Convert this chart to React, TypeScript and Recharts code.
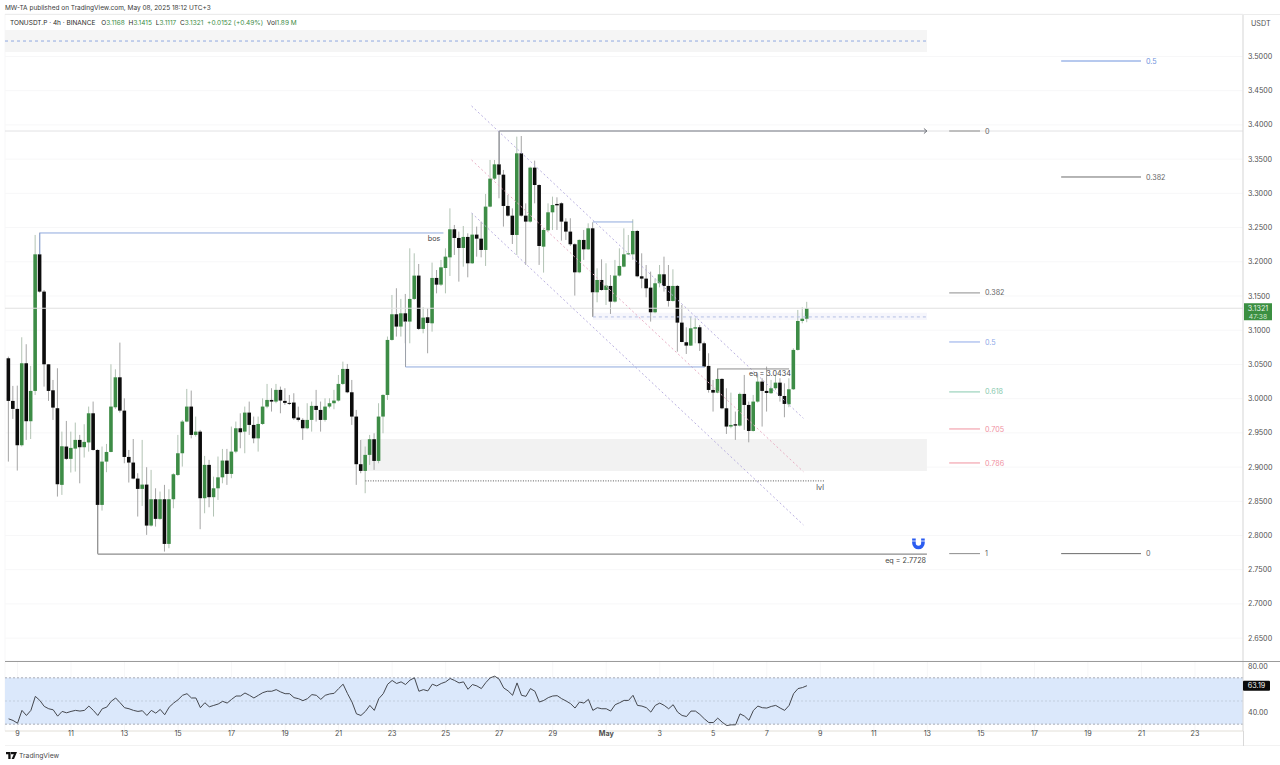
import React from "react";
import {
  ComposedChart, Bar, Line, XAxis, YAxis, CartesianGrid,
  ReferenceLine, ReferenceArea, ReferenceDot,
} from "recharts";

const opens = [3.059,2.9967,2.985,2.9319,3.0517,2.967,3.0113,3.2109,3.1564,3.0502,3.0122,2.986,2.874,2.93,2.912,2.927,2.9397,2.929,2.936,2.9786,
2.925,2.8447,2.908,2.9221,2.9874,3.0312,2.9825,2.9148,2.9066,2.8832,2.8681,2.8744,2.8145,2.853,2.8243,2.853,2.7877,2.853,2.8885,2.9202,
2.9665,2.9884,2.947,2.9518,2.8545,2.9032,2.856,2.869,2.885,2.9095,2.89,2.9226,2.9567,2.9518,2.9796,2.9616,2.942,2.963,2.9884,2.9981,
2.9957,3.0128,2.9967,2.9938,2.9943,2.9723,2.9689,2.9567,2.9689,2.9894,2.9835,2.9689,2.9884,2.9933,2.9972,3.0215,3.0434,3.0093,2.9738,2.9042,
2.8944,2.9178,2.9407,2.909,2.9738,3.0054,3.0858,3.1233,3.1053,3.1247,3.1126,3.1457,3.1798,3.1019,3.1189,3.1101,3.1764,3.1666,3.1909,3.2065,
3.2475,3.2348,3.2202,3.2363,3.1978,3.2397,3.2338,3.2173,3.2806,3.3215,3.3424,3.3273,3.2816,3.2674,3.2392,3.3585,3.2674,3.2587,3.3376,3.3122,
3.2221,3.246,3.2723,3.2845,3.2855,3.2587,3.2441,3.2256,3.1846,3.2319,3.2182,3.2489,3.1554,3.1734,3.1588,3.1647,3.1418,3.1798,3.1929,3.2109,
3.2109,3.245,3.1788,3.1754,3.1622,3.1262,3.1686,3.1817,3.1647,3.1428,3.1647,3.1111,3.0824,3.0775,3.1023,3.1043,3.0809,3.0478,3.0127,3.0088,
3.0288,2.9859,2.9592,2.9626,2.9606,3.0069,2.9908,2.9528,2.9957,3.0249,3.0113,3.0079,3.0152,3.0234,3.0039,2.9918,3.0137,3.0712,3.1135,3.1168];

const closes = [2.9967,2.985,2.9319,3.0517,2.967,3.0113,3.2109,3.1564,3.0502,3.0113,2.9869,2.8749,2.9304,2.912,2.928,2.9397,2.929,2.9368,2.9786,2.925,
2.8447,2.908,2.9221,2.9884,3.0312,2.9825,2.9148,2.9066,2.8832,2.8681,2.8744,2.8145,2.853,2.8243,2.853,2.7877,2.853,2.8895,2.9202,2.9665,
2.9884,2.947,2.9518,2.8545,2.9032,2.856,2.869,2.885,2.9095,2.89,2.9226,2.9567,2.9509,2.9796,2.9616,2.942,2.963,2.9884,2.9981,2.9957,
3.0128,2.9972,2.9938,2.993,2.9713,2.9689,2.9567,2.9689,2.9894,2.9835,2.9689,2.9884,2.9933,2.9972,3.0215,3.0434,3.0093,2.9738,2.9042,2.8944,
2.9178,2.9407,2.909,2.9738,3.0054,3.0858,3.1233,3.1053,3.1247,3.1126,3.1457,3.1798,3.1019,3.1184,3.1106,3.1764,3.1666,3.1919,3.2075,3.2475,
3.2348,3.2202,3.2363,3.1978,3.2397,3.2338,3.2173,3.2806,3.3215,3.3424,3.3273,3.2816,3.2674,3.2392,3.3585,3.2674,3.2587,3.3376,3.3122,3.2231,
3.2465,3.2723,3.283,3.2825,3.2587,3.2441,3.2256,3.1846,3.2319,3.2182,3.2489,3.1554,3.1734,3.1588,3.1652,3.1418,3.1798,3.1939,3.2109,3.2124,
3.245,3.1788,3.1754,3.1613,3.1262,3.1686,3.1817,3.1647,3.1428,3.1647,3.1111,3.0828,3.0775,3.1028,3.1043,3.0809,3.0468,3.0127,3.0088,3.0288,
2.9859,2.9592,2.9616,2.9606,3.0069,2.9908,2.9528,2.9957,3.0249,3.0113,3.0083,3.0152,3.0234,3.0039,2.9923,3.0137,3.0712,3.1135,3.1168,3.1321];

const highs = [3.0614,3.0186,3.019,3.0897,3.0795,3.0478,3.2392,3.2426,3.1588,3.0502,3.0273,3.0444,2.9518,2.9674,2.9518,2.965,2.947,2.9626,2.9884,2.9957,
2.926,2.93,2.9338,3.0502,3.0429,3.0819,3.0005,2.925,2.941,2.891,2.9397,2.8998,2.8959,2.869,2.8642,2.874,2.8676,2.891,2.947,2.9689,
3.0142,3.0118,2.9738,2.9543,2.9163,2.9105,2.886,2.9154,2.9265,2.9265,2.9592,2.9665,2.9786,2.9884,2.9957,2.9738,2.9738,3.0005,3.0215,3.0152,
3.0215,3.0176,3.0152,3.0054,3.0079,2.9884,2.9713,2.9933,2.9957,3.0128,2.9957,3.0005,3.0005,3.0128,3.0346,3.0541,3.0507,3.0273,2.9835,2.9397,
2.93,2.947,2.9494,2.9933,3.0064,3.0907,3.1515,3.1613,3.1457,3.153,3.2197,3.2124,3.1968,3.1335,3.132,3.1988,3.188,3.2027,3.2197,3.2781,
3.2538,3.2441,3.2523,3.2416,3.2708,3.2514,3.2587,3.2991,3.3488,3.3488,3.3902,3.3342,3.2976,3.2781,3.3829,3.3838,3.2854,3.339,3.3478,3.3132,
3.2489,3.2854,3.2952,3.2942,3.2869,3.2636,3.2636,3.227,3.2329,3.2465,3.2562,3.2577,3.1905,3.2036,3.1978,3.1807,3.2027,3.2197,3.2489,3.2392,
3.2621,3.2465,3.2124,3.1953,3.1856,3.1759,3.1953,3.2075,3.1953,3.189,3.1661,3.1369,3.1043,3.1199,3.1174,3.1077,3.0833,3.0663,3.0273,3.0444,
3.0298,3.0152,3.0088,2.9811,3.0088,3.0346,2.9957,3.0054,3.037,3.0298,3.0468,3.0273,3.0346,3.0298,3.0224,3.0298,3.0736,3.1296,3.1335,3.1415];

const lows = [2.908,2.9704,2.8949,2.93,2.9397,2.941,3.0054,3.155,3.0176,2.9967,2.9689,2.8569,2.8593,2.9105,2.892,2.8934,2.8763,2.9139,2.9226,2.924,
2.7741,2.8364,2.8925,2.9216,2.985,2.9796,2.9056,2.8774,2.8822,2.8277,2.8432,2.8009,2.813,2.813,2.8228,2.7765,2.7814,2.8398,2.887,2.9007,
2.9655,2.942,2.9445,2.8092,2.8325,2.8413,2.8277,2.852,2.8763,2.874,2.8837,2.9202,2.9275,2.9202,2.947,2.9348,2.9226,2.9616,2.986,2.9811,
2.9933,2.9786,2.9908,2.9908,2.9689,2.9665,2.9397,2.9553,2.9518,2.9665,2.9518,2.9665,2.986,2.9845,2.9957,3.02,3.0079,2.9616,2.874,2.891,
2.8618,2.9032,2.8959,2.9056,2.9494,2.9981,3.0848,3.0907,3.0907,3.0809,3.0809,3.1442,3.1004,3.0955,3.0663,3.0979,3.1539,3.1646,3.1539,3.1793,
3.21,3.171,3.1929,3.1773,3.1968,3.2075,3.2065,3.1939,3.2796,3.3195,3.2928,3.2514,3.266,3.226,3.21,3.266,3.1954,3.2572,3.2854,3.1954,
3.1842,3.2441,3.2465,3.2465,3.2309,3.2319,3.2231,3.1506,3.1832,3.2027,3.2173,3.1199,3.1408,3.1578,3.1369,3.1238,3.1403,3.1783,3.1919,3.2099,
3.2027,3.1773,3.1613,3.1481,3.1126,3.1247,3.1627,3.1564,3.1345,3.1418,3.0687,3.0824,3.0653,3.077,3.0809,3.0697,3.0453,3.0088,2.9811,3.0079,
2.9845,2.9484,2.9567,2.9397,2.9592,2.9543,2.9362,2.9519,2.9942,2.9592,2.9811,3.0069,3.0127,2.9957,2.9728,2.9874,3.0127,3.0702,3.1101,3.1117];

const rsiValues = [34.6,33.2,30.8,41.9,37.5,41.9,54,50.5,45.3,43.3,42.4,36.9,41,39.8,41,41.9,41.3,41.9,45.6,41.9,
37.5,43.3,44.7,49.7,52.6,48.5,44.2,43.3,41.9,41,41.6,37.5,41.9,39.5,42.7,38.1,44.7,48.2,51.1,54.9,
56.3,52.6,52.6,44.2,48.5,45,46.2,47.4,49.7,48.2,51.4,54.3,54.3,56.9,54.9,52.6,54.9,57.2,58.4,58.4,
59.8,57.8,56.3,56.3,52.9,52,50.3,52,55.5,54.9,51.4,54.9,56.1,56.6,60.7,64.5,56.3,49.1,38.9,37.5,
41,46.2,41.9,52,56.3,64.5,67.7,65.1,66.5,64.2,68,70,58.4,59.8,58.7,64.5,63,65.1,66.5,69.4,
67.7,65.6,66.5,60.1,64.2,63,60.7,65.9,70,71.4,68.8,61.3,58.7,54.9,65.6,54.9,54,60.7,58.4,49.1,
50.5,52.9,54.3,54.6,52,50,47.7,43.9,49.1,48.2,51.4,41.9,44.2,43.3,43.3,41.3,46.8,48.5,50.5,50.5,
54.9,46.2,45.6,44.2,40.4,46.2,48.2,46.2,43.3,46.8,40.4,37.5,36.6,41.3,41.3,38.4,34.6,31.4,31.4,35.2,
31.7,28.8,29.4,29.4,38.9,36.9,33.4,41.9,45.6,44.2,43.9,45.3,46.2,43.9,41.9,46.2,56.3,60.7,61.6,63.19];

const dayTicks = [2,14,26,38,50,62,74,86,98,110,122,134,146,158,170,182,194,206,218,230,242,254,266];
const dayLabels = ["9","11","13","15","17","19","21","23","25","27","29","May","3","5","7","9","11","13","15","17","19","21","23"];
const priceTicks = [2.65,2.7,2.75,2.8,2.85,2.9,2.95,3,3.05,3.1,3.15,3.2,3.25,3.3,3.35,3.4,3.45,3.5];
const rsiTicks = [40,80];

const table = opens.map((open, i) => ({
  i, open, close: closes[i], high: highs[i], low: lows[i], rsi: rsiValues[i],
}));

const X_MIN = -0.807, X_MAX = 276.77, X_END = 205.9;
const P_MIN = 2.6166, P_MAX = 3.5621;
const LAST_PRICE = 3.1321, LAST_RSI = 63.19;

// [x1, price1, x2, price2, colour, width, dash]
const segments: [number, number, number, number, string, number, string?][] = [
  [X_MIN, 3.5226, X_END, 3.5226, "#8fa8e0", 1, "3 3"],
  [110, 3.3911, X_END, 3.3911, "#7b7f88", 1.2],
  [110, 3.3911, 110, 3.3424, "#8a8d94", 1],
  [7, 3.2421, 97.5, 3.2421, "#8fa9dd", 1],
  [7, 3.2421, 7, 3.2109, "#8fa9dd", 1],
  [89, 3.1126, 89, 3.0463, "#9a9fa8", 1],
  [89, 3.0463, 156, 3.0463, "#8fa9dd", 1],
  [131, 3.2582, 140, 3.2582, "#8fa9dd", 1],
  [131, 3.1554, 131, 3.1194, "#9a9a9a", 1],
  [131, 3.1194, X_END, 3.1194, "#b4c0e4", 1, "3 3"],
  [159, 3.0434, 175, 3.0434, "#8d8d8d", 1],
  [159, 3.0434, 159, 3.0288, "#8d8d8d", 1],
  [80, 2.8798, 183, 2.8798, "#555555", 1, "1 1.5"],
  [20, 2.7728, X_END, 2.7728, "#8c8c8c", 1.2],
  [20, 2.8447, 20, 2.7728, "#8c8c8c", 1],
  [103.8, 3.4277, 178.2, 2.9713, "#b9b0e0", 1, "2 2.5"],
  [103.8, 3.3488, 178.2, 2.8933, "#e8aec4", 1, "2 2.5"],
  [103.8, 3.2713, 178.2, 2.8155, "#b9b0e0", 1, "2 2.5"],
];

// [x1, x2, price, label, colour]
const fibLevels: [number, number, number, string, string][] = [
  [210.9, 217.8, 3.3911, "0", "#8c8c8c"],
  [210.9, 217.8, 3.1545, "0.382", "#8c8c8c"],
  [210.9, 217.8, 3.0828, "0.5", "#8ea8e8"],
  [210.9, 217.8, 3.0098, "0.618", "#86c9ae"],
  [210.9, 217.8, 2.9557, "0.705", "#f0919f"],
  [210.9, 217.8, 2.906, "0.786", "#f0919f"],
  [210.9, 217.8, 2.7735, "1", "#8c8c8c"],
  [236, 253.9, 3.4934, "0.5", "#6f93dd"],
  [236, 253.9, 3.3239, "0.382", "#6b6b6b"],
  [236, 253.9, 2.7735, "0", "#6b6b6b"],
];

// [x, price, text, anchor]
const notes: [number, number, string, string][] = [
  [94, 3.2345, "bos", "start"],
  [166, 3.0362, "eq = 3.0434", "start"],
  [181.1, 2.8702, "lvl", "start"],
  [205.7, 2.7638, "eq = 2.7728", "end"],
];

const FONT = "Inter, 'Liberation Sans', sans-serif";
const GREEN = "#3d8c46";
const BLACK = "#0c0c0c";

const Candle = (props: any) => {
  const { x, y, width, height, payload } = props;
  const top = Math.min(y, y + height);
  const h = Math.abs(height);
  const unit = h / (payload.high - payload.low);
  const cx = x + width / 2;
  const up = payload.close >= payload.open;
  const bodyTop = top + (payload.high - Math.max(payload.open, payload.close)) * unit;
  const bodyH = Math.max(1, Math.abs(payload.open - payload.close) * unit);
  return (
    <g>
      <line x1={cx} x2={cx} y1={top} y2={top + h} stroke={up ? "#a9bcab" : "#9b9b9b"} strokeWidth={0.9} />
      <rect x={cx - 1.8} y={bodyTop} width={3.6} height={bodyH} fill={up ? GREEN : BLACK} />
    </g>
  );
};

const Arrow = ({ cx, cy }: any) => (
  <path d={`M${cx - 3} ${cy - 2.5} L${cx} ${cy} L${cx - 3} ${cy + 2.5}`} fill="none" stroke="#6f7279" strokeWidth={1} />
);

const Magnet = ({ cx, cy }: any) => (
  <g>
    <path d={`M${cx - 4.5} ${cy - 4.5} V${cy} A4.5 4.5 0 0 0 ${cx + 4.5} ${cy} V${cy - 4.5}`} fill="none" stroke="#2b5cf0" strokeWidth={3.6} />
    <line x1={cx - 7} x2={cx + 7} y1={cy - 2} y2={cy - 2} stroke="#ffffff" strokeWidth={0.8} />
  </g>
);

const PriceTag = ({ cx, cy }: any) => (
  <g>
    <rect x={cx + 1} y={cy - 5} width={28} height={17} fill="#3b8f41" />
    <text x={cx + 15} y={cy + 3} textAnchor="middle" fontSize={7.2} fontFamily={FONT} fill="#e8f3e8">3.1321</text>
    <text x={cx + 15} y={cy + 10.5} textAnchor="middle" fontSize={6.8} fontFamily={FONT} fill="#cfe6cf">47:38</text>
  </g>
);

const RsiTag = ({ cx, cy }: any) => (
  <g>
    <rect x={cx} y={cy - 5} width={27} height={10} rx={1} fill="#0a0a0a" />
    <text x={cx + 13.5} y={cy + 2.6} textAnchor="middle" fontSize={7.2} fontFamily={FONT} fill="#f2f2f2">{LAST_RSI.toFixed(2)}</text>
  </g>
);

const DayTick = ({ x, y, payload }: any) => {
  const label = dayLabels[dayTicks.indexOf(payload.value)];
  return (
    <text x={x} y={y + 3} textAnchor="middle" fontSize={7.2} fontFamily={FONT}
      fontWeight={label === "May" ? 700 : 400} fill="#4f4f4f">{label}</text>
  );
};

const line1 = "MW-TA published on TradingView.com, May 08, 2025 18:12 UTC+3";

const Span = ({ c, children }: any) => <span style={{ color: c }}>{children}</span>;

export default function App() {
  return (
    <div style={{ position: "absolute", left: 0, top: 0, width: 1280, height: 765, overflow: "hidden", background: "#fff", fontFamily: FONT }}>
      <div style={{ position: "absolute", left: 0, top: 0 }}>
        <ComposedChart width={1280} height={661} data={table} margin={{ top: 14, right: 0, bottom: 0, left: 5 }}>
          <CartesianGrid stroke="#f7f7f8" strokeWidth={1} />
          <XAxis dataKey="i" type="number" domain={[X_MIN, X_MAX]} allowDataOverflow ticks={dayTicks}
            tick={false} axisLine={false} tickLine={false} height={0} />
          <YAxis orientation="right" width={37} domain={[P_MIN, P_MAX]} allowDataOverflow ticks={priceTicks}
            tickFormatter={(v: number) => v.toFixed(4)} tickSize={0} tickMargin={5}
            tick={{ fontSize: 7.2, fill: "#4f4f4f", fontFamily: FONT }} axisLine={{ stroke: "#d9d9d9" }} />
          <ReferenceArea x1={X_MIN} x2={X_END} y1={3.5066} y2={3.5387} fill="#f5f5f5" fillOpacity={1} stroke="none" />
          <ReferenceArea x1={79} x2={X_END} y1={2.8943} y2={2.9411} fill="#f2f2f2" fillOpacity={1} stroke="none" />
          <ReferenceArea x1={131} x2={X_END} y1={3.115} y2={3.1257} fill="#f6f6fc" fillOpacity={1} stroke="none" />
          <ReferenceLine y={3.3911} stroke="#e2e2e4" strokeWidth={1} />
          <ReferenceLine y={LAST_PRICE} stroke="#e0e0e0" strokeWidth={1} />
          {segments.slice(15).map((s, k) => (
            <ReferenceLine key={"d" + k} segment={[{ x: s[0], y: s[1] }, { x: s[2], y: s[3] }]} stroke={s[4]} strokeWidth={s[5]} strokeDasharray={s[6]} />
          ))}
          <Bar dataKey={(d: any) => [d.low, d.high]} barSize={4} shape={<Candle />} isAnimationActive={false} />
          {segments.slice(0, 15).map((s, k) => (
            <ReferenceLine key={"s" + k} segment={[{ x: s[0], y: s[1] }, { x: s[2], y: s[3] }]} stroke={s[4]} strokeWidth={s[5]} strokeDasharray={s[6]} />
          ))}
          {fibLevels.map((f, k) => (
            <ReferenceLine key={"f" + k} segment={[{ x: f[0], y: f[2] }, { x: f[1], y: f[2] }]} stroke={f[4]} strokeWidth={1}
              label={{ value: f[3], position: "right", fill: f[4] === "#8c8c8c" || f[4] === "#6b6b6b" ? "#666" : f[4], fontSize: 7.2, fontFamily: FONT, offset: 5 }} />
          ))}
          {notes.map((n, k) => (
            <ReferenceDot key={"n" + k} x={n[0]} y={n[1]} r={0}
              shape={({ cx, cy }: any) => (
                <text x={cx} y={cy + 2.5} textAnchor={n[3] as any} fontSize={7.2} fontFamily={FONT} fill="#444">{n[2]}</text>
              )} />
          ))}
          <ReferenceDot x={X_END} y={3.3911} shape={<Arrow />} />
          <ReferenceDot x={204} y={2.789} shape={<Magnet />} />
          <ReferenceDot x={X_MAX} y={LAST_PRICE} shape={<PriceTag />} />
        </ComposedChart>
      </div>

      <div style={{ position: "absolute", left: 0, top: 661 }}>
        <ComposedChart width={1280} height={104} data={table} margin={{ top: 1, right: 0, bottom: 19, left: 5 }}>
          <CartesianGrid stroke="#f7f7f8" strokeWidth={1} horizontal={false} />
          <XAxis dataKey="i" type="number" domain={[X_MIN, X_MAX]} allowDataOverflow ticks={dayTicks}
            interval={0} tick={<DayTick />} tickSize={0} height={15} axisLine={{ stroke: "#e2dfd8" }} tickLine={false} />
          <YAxis orientation="right" width={37} domain={[24.1, 83.65]} allowDataOverflow ticks={rsiTicks}
            tickFormatter={(v: number) => v.toFixed(2)} tickSize={0} tickMargin={5}
            tick={{ fontSize: 7.2, fill: "#4f4f4f", fontFamily: FONT }} axisLine={{ stroke: "#d9d9d9" }} />
          <ReferenceArea x1={X_MIN} x2={X_MAX} y1={30} y2={70} fill="#dbe8fb" fillOpacity={1} stroke="none" />
          <ReferenceLine y={70} stroke="#a9adb6" strokeDasharray="2 2" />
          <ReferenceLine y={50} stroke="#c3cede" strokeDasharray="2 2" />
          <ReferenceLine y={30} stroke="#a9adb6" strokeDasharray="2 2" />
          <Line dataKey="rsi" type="linear" stroke="#45484f" strokeWidth={1} dot={false} activeDot={false} isAnimationActive={false} />
          <ReferenceDot x={X_MAX} y={LAST_RSI} shape={<RsiTag />} />
        </ComposedChart>
      </div>

      <div style={{ position: "absolute", left: 5, top: 661, width: 1275, height: 1, background: "#9b9b9b" }} />
      <div style={{ position: "absolute", left: 5, top: 745, width: 1275, height: 1, background: "#f2f2f2" }} />
      <div style={{ position: "absolute", left: 5, top: 14, width: 1275, height: 1, background: "#ececec" }} />
      <div style={{ position: "absolute", left: 1243, top: 731, width: 1, height: 15, background: "#d9d9d9" }} />

      <div style={{ position: "absolute", left: 5, top: 4, fontSize: 6.5, lineHeight: "9px", color: "#3a3a3a", whiteSpace: "nowrap" }}>{line1}</div>
      <div style={{ position: "absolute", left: 10, top: 19, fontSize: 6.5, lineHeight: "9px", color: "#2c2c2c", whiteSpace: "nowrap" }}>
        TONUSDT.P · 4h · BINANCE{"  "}
        <span style={{ marginLeft: 4 }}>O<Span c={GREEN}>3.1168</Span></span>{" "}
        <span style={{ marginLeft: 2 }}>H<Span c={GREEN}>3.1415</Span></span>{" "}
        <span style={{ marginLeft: 2 }}>L<Span c={GREEN}>3.1117</Span></span>{" "}
        <span style={{ marginLeft: 2 }}>C<Span c={GREEN}>3.1321</Span></span>{" "}
        <span style={{ marginLeft: 2 }}><Span c={GREEN}>+0.0152 (+0.49%)</Span></span>{" "}
        <span style={{ marginLeft: 2 }}>Vol<Span c={GREEN}>1.89 M</Span></span>
      </div>
      <div style={{ position: "absolute", left: 1251, top: 19, fontSize: 7.2, lineHeight: "9px", color: "#4f4f4f" }}>USDT</div>

      <svg style={{ position: "absolute", left: 6, top: 752 }} width={11} height={8} viewBox="0 0 11 8">
        <path d="M0 0H4.6V7H2.3V2.2H0Z M5 0H11L8 7H5.6L7.8 2.2H5Z" fill="#111" />
      </svg>
      <div style={{ position: "absolute", left: 19, top: 751, fontSize: 6.8, lineHeight: "10px", color: "#4a4a4a" }}>TradingView</div>
    </div>
  );
}
